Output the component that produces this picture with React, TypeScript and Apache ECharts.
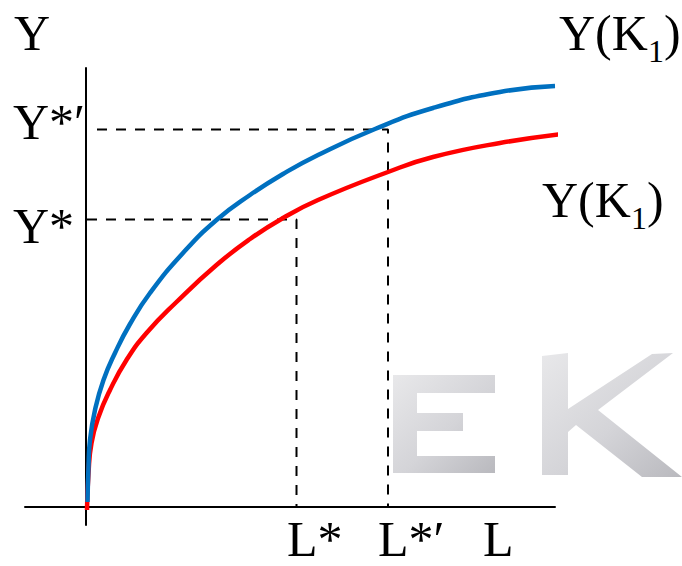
import { useEffect, useRef } from "react";
import * as echarts from "echarts";

// Output curves: labour input L against output Y, for the lower (red) and upper (blue) capital stock
const lowerL = [0.02, 0.05, 0.11, 0.25, 0.48, 0.81, 1.21, 1.81, 2.61, 3.28, 3.94, 4.64, 6.04, 6.94, 8.28, 9.7];
const lowerY = [-0.06, 0.68, 1.28, 1.8, 2.34, 2.94, 3.48, 4.1, 4.84, 5.36, 5.78, 6.14, 6.7, 7.0, 7.28, 7.48];
const upperL = [0.03, 0.05, 0.08, 0.18, 0.35, 0.58, 0.88, 1.28, 1.94, 2.61, 3.28, 3.94, 4.64, 5.78, 6.94, 8.28, 9.38];
const upperY = [0.1, 0.81, 1.34, 1.94, 2.54, 3.08, 3.66, 4.28, 5.08, 5.74, 6.24, 6.66, 7.04, 7.56, 7.98, 8.3, 8.42];

// Equilibrium levels marked by the dashed guides
const lStar = 4.21;
const lStarPrime = 6.04;
const yStar = 5.75;
const yStarPrime = 7.55;
const guideStartStar = 0.02;
const guideStartPrime = 0.22;

// Axis extents
const xMin = -1.22;
const xMax = 9.38;
const yMin = -0.36;
const yMax = 8.78;

const SERIF = '"Liberation Serif", "Times New Roman", serif';

const toPairs = (xs: number[], ys: number[]) => xs.map((x, i) => [x, ys[i]]);

function label(text: string, x: number, y: number, size = 50) {
  return {
    type: "text",
    x,
    y,
    z: 10,
    style: {
      text,
      font: `${size}px ${SERIF}`,
      fill: "#000",
      textAlign: "left",
      textVerticalAlign: "middle",
    },
  };
}

// Y(K₁) curve label, drawn as three pieces so the subscript sits low
function curveLabel(x: number, y: number) {
  return [
    label("Y(K", x, y),
    label("1", x + 89, y + 18, 32),
    label(")", x + 105, y),
  ];
}

function watermark() {
  const fill = {
    type: "linear",
    x: 0,
    y: 0,
    x2: 1,
    y2: 1,
    colorStops: [
      { offset: 0, color: "#e8e8ea" },
      { offset: 0.55, color: "#d4d4d8" },
      { offset: 1, color: "#b9b9be" },
    ],
  };
  return [
    {
      type: "polygon",
      z: 0,
      shape: {
        points: [
          [393, 375], [495, 375], [495, 393], [417, 393], [417, 413], [463, 413],
          [463, 431], [417, 431], [417, 456], [495, 456], [495, 473], [393, 473],
        ],
      },
      style: { fill },
    },
    {
      type: "polygon",
      z: 0,
      shape: {
        points: [
          [542, 356], [568, 353], [568, 409], [652, 354], [673, 353], [598, 410],
          [682, 477], [642, 477], [576, 425], [568, 432], [568, 475], [542, 475],
        ],
      },
      style: { fill },
    },
  ];
}

export default function App() {
  const ref = useRef<HTMLDivElement>(null);

  useEffect(() => {
    if (!ref.current) return;
    const chart = echarts.init(ref.current, null, { renderer: "svg" });

    const axisCommon = {
      type: "value" as const,
      axisLine: { show: true, onZero: true, lineStyle: { color: "#000", width: 2 } },
      axisTick: { show: false },
      axisLabel: { show: false },
      splitLine: { show: false },
    };

    const guide = {
      type: "line" as const,
      symbol: "none",
      clip: false,
      z: 1,
      lineStyle: { color: "#000", width: 2, type: [10, 9] },
      silent: true,
    };

    chart.setOption({
      animation: false,
      backgroundColor: "#fff",
      grid: { left: 25, right: 127, top: 68, bottom: 41 },
      xAxis: { ...axisCommon, min: xMin, max: xMax },
      yAxis: { ...axisCommon, min: yMin, max: yMax },
      series: [
        {
          ...guide,
          data: [
            [guideStartStar, yStar],
            [lStar, yStar],
            [lStar, 0],
          ],
        },
        {
          ...guide,
          data: [
            [guideStartPrime, yStarPrime],
            [lStarPrime, yStarPrime],
            [lStarPrime, 0],
          ],
        },
        {
          type: "line",
          data: toPairs(lowerL, lowerY),
          smooth: 0.5,
          symbol: "none",
          clip: false,
          z: 2,
          lineStyle: { color: "#ff0000", width: 4.5 },
        },
        {
          type: "line",
          data: toPairs(upperL, upperY),
          smooth: 0.5,
          symbol: "none",
          clip: false,
          z: 3,
          lineStyle: { color: "#0070c0", width: 4.5 },
        },
      ],
      graphic: [
        ...watermark(),
        label("Y", 14, 33),
        label("Y*′", 13, 122),
        label("Y*", 13, 226),
        label("L*", 287, 539),
        label("L*′", 378, 539),
        label("L", 483, 539),
        ...curveLabel(559, 33),
        ...curveLabel(542, 200),
      ],
    });

    return () => chart.dispose();
  }, []);

  return (
    <div
      ref={ref}
      style={{ position: "fixed", left: 0, top: 0, width: 682, height: 566 }}
    />
  );
}
